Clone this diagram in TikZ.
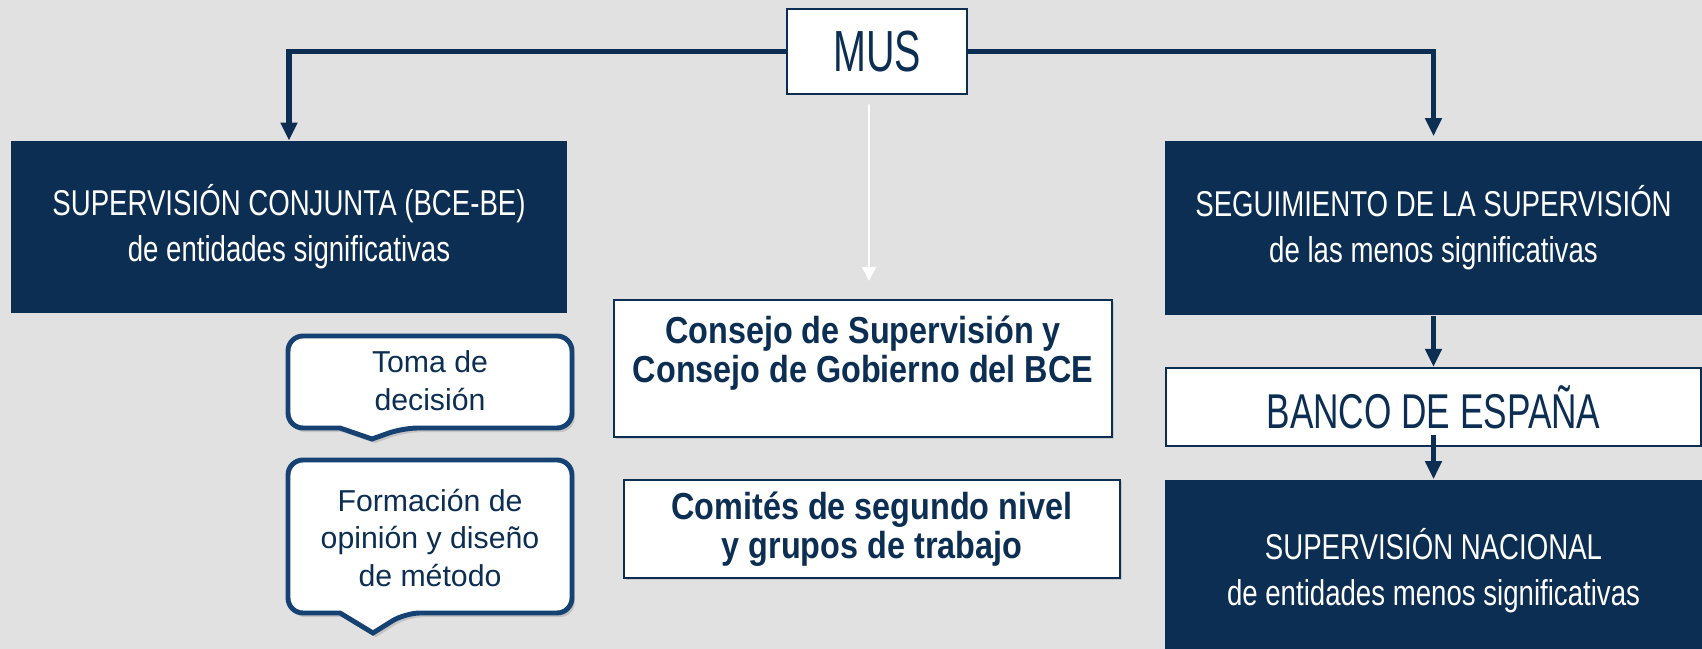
\documentclass[tikz,border=0pt]{standalone}
\usepackage{fontspec}
\setmainfont{Liberation Sans}
\newfontfamily\narrowfont[FakeStretch=0.77]{Liberation Sans}
\newfontfamily\condfont[FakeStretch=0.72]{Liberation Sans}
\newfontfamily\musfont[FakeStretch=0.68]{Liberation Sans}
\newfontfamily\boldnarrowfont[FakeStretch=0.86]{Liberation Sans}
\usepackage{tikz}
\usetikzlibrary{shapes, arrows, arrows.meta, positioning, shadows}
\definecolor{navy}{RGB}{12,46,82}
\definecolor{calloutblue}{RGB}{22,66,115}
\definecolor{bggray}{RGB}{225,225,225}
\tikzstyle{dbox} = [rectangle, fill=navy, text=white, align=center, font=\narrowfont\fontsize{10.2}{13}\selectfont]
\tikzstyle{wbox} = [rectangle, draw=navy, line width=0.6pt, fill=white, text=navy, align=center]
\tikzstyle{boldtext} = [align=center, text=navy, font=\boldnarrowfont\bfseries\fontsize{10.7}{11.2}\selectfont]
\tikzstyle{bubble} = [draw=calloutblue, line width=1.4pt, fill=white, rounded corners=0.15cm, drop shadow={opacity=0.3, shadow xshift=0.8pt, shadow yshift=-1.2pt}]
\tikzstyle{bubbletext} = [align=center, text=navy, font=\fontsize{8.6}{10.8}\selectfont]
\tikzstyle{line} = [draw=navy, line width=1.7pt, -{Triangle[width=0.16cm, length=0.18cm]}]
\tikzstyle{whiteline} = [draw=white, line width=0.5pt, -{Triangle[width=0.14cm, length=0.14cm]}]

\begin{document}
\begin{tikzpicture}[x=0.01cm, y=-0.01cm]
			\useasboundingbox (0,0) rectangle (1702,649);
			\fill [bggray] (0,0) rectangle (1702,649);

			\node [wbox, minimum width=1.8cm, minimum height=0.85cm, line width=0.8pt, font=\musfont\fontsize{16.5}{18}\selectfont] (mus) at (877,51.5) {MUS};
			\node [dbox, minimum width=5.56cm, minimum height=1.71cm] (sup) at (289,227) {SUPERVISIÓN CONJUNTA (BCE-BE)\\de entidades significativas};
			\node [dbox, minimum width=5.37cm, minimum height=1.74cm] (seg) at (1433.5,228) {SEGUIMIENTO DE LA SUPERVISIÓN\\de las menos significativas};
			\node [wbox, minimum width=5.35cm, minimum height=0.78cm, font=\condfont\fontsize{13.9}{16}\selectfont] (banco) at (1433.5,407) {BANCO DE ESPAÑA};
			\node [dbox, minimum width=5.37cm, minimum height=1.82cm] (nac) at (1433.5,571) {SUPERVISIÓN NACIONAL\\de entidades menos significativas};

			\node [wbox, minimum width=4.98cm, minimum height=1.37cm, drop shadow={opacity=0.25, shadow xshift=0.5pt, shadow yshift=-0.5pt}] (consejo) at (863,368.5) {};
			\node [boldtext] (consejotext) at (863,353) {Consejo de Supervisión y\\Consejo de Gobierno del BCE};
			\node [wbox, boldtext, minimum width=4.96cm, minimum height=0.96cm, font=\boldnarrowfont\bfseries\fontsize{10.7}{10}\selectfont, drop shadow={opacity=0.25, shadow xshift=0.5pt, shadow yshift=-0.5pt}] (comites) at (872,529) {Comités de segundo nivel\\y grupos de trabajo};

			% callouts
			\path [bubble] (430,336) -- (572,336) -- (572,428) -- (403,428) [sharp corners] -- (372,439) -- (340,428) [rounded corners=0.15cm] -- (288,428) -- (288,336) -- cycle;
			\node [bubbletext] (toma) at (430,381) {Toma de\\decisión};
			\path [bubble] (430,460) -- (572,460) -- (572,613) -- (405,613) [sharp corners] -- (373,633) -- (340,613) [rounded corners=0.15cm] -- (288,613) -- (288,460) -- cycle;
			\node [bubbletext] (formacion) at (430,538) {Formación de\\opinión y diseño\\de método};

			\path [line] (mus.west) -| (sup.north);
			\path [line, shorten >=0.04cm] (mus.east) -| (seg.north);
			\path [line] (seg.south) -- (banco.north);
			\path [line, shorten <=-0.12cm] (banco.south) -- (nac.north);
			\path [whiteline, shorten <=0.09cm, shorten >=0.18cm] ([xshift=-0.08cm]mus.south) -- ([xshift=0.06cm]consejo.north);
		\end{tikzpicture}
\end{document}
